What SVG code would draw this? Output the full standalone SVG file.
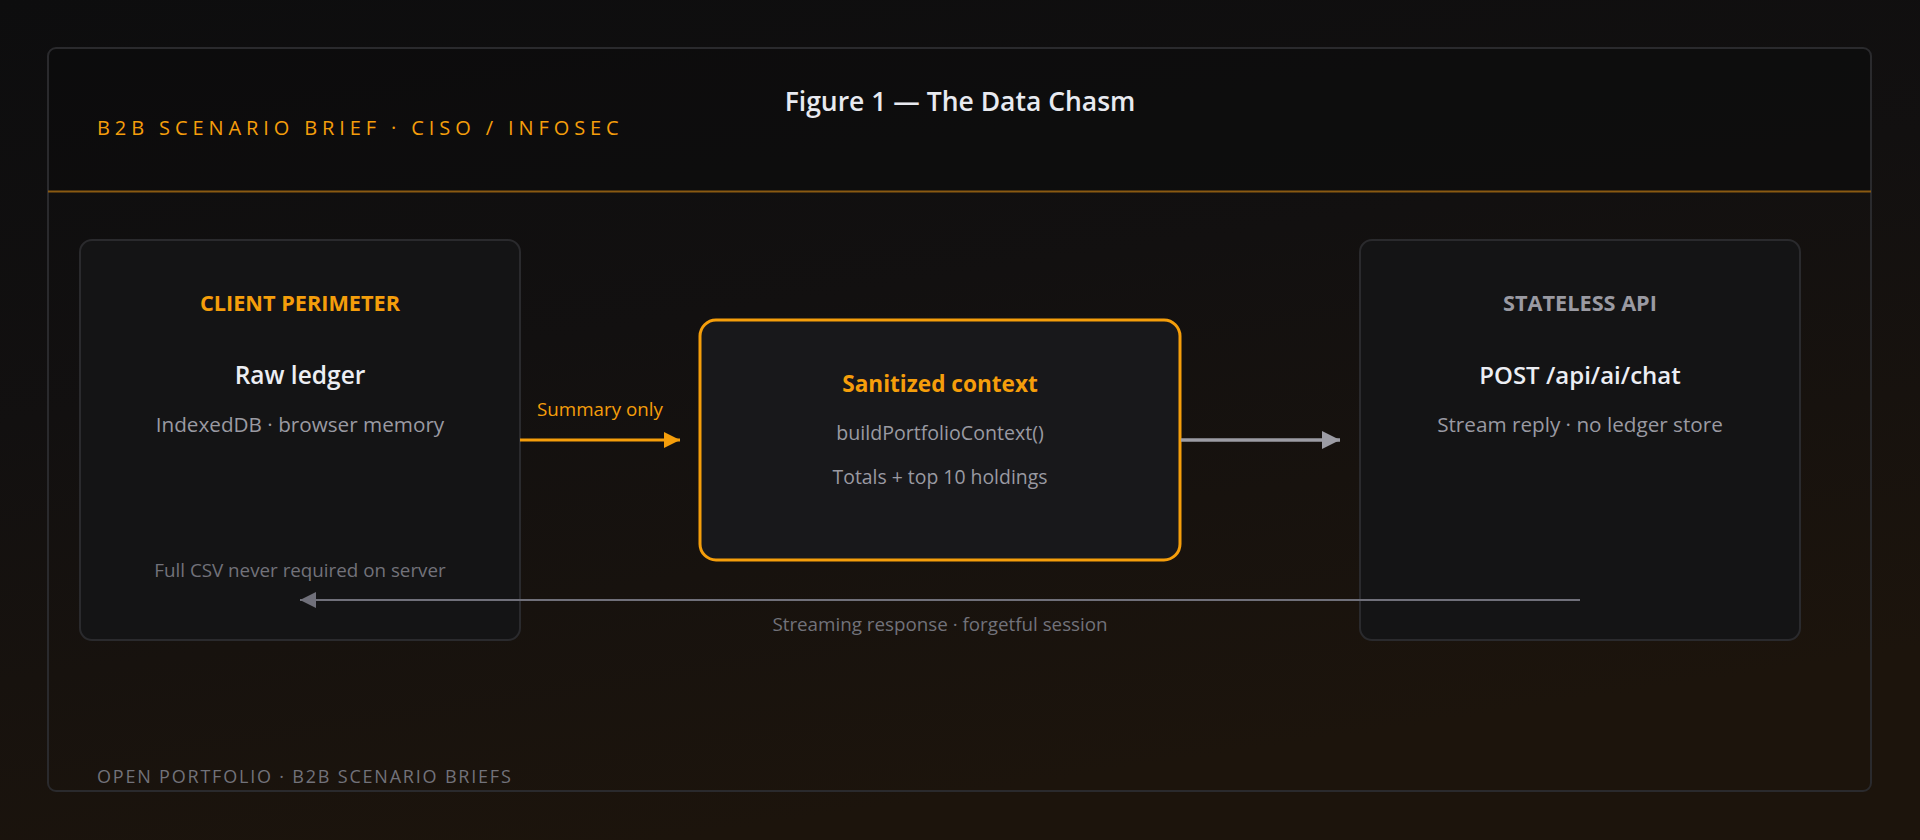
<svg xmlns="http://www.w3.org/2000/svg" width="1920" height="840" viewBox="0 0 1920 840">
<defs>
<linearGradient id="bg" x1="0" y1="0" x2="0.35" y2="1">
<stop offset="0" stop-color="#0d0d0e"/>
<stop offset="0.45" stop-color="#121010"/>
<stop offset="1" stop-color="#1c140c"/>
</linearGradient>
<marker id="ahOrange" viewBox="0 0 10 10" refX="10" refY="5" markerWidth="16" markerHeight="16" markerUnits="userSpaceOnUse" orient="auto"><path d="M0,0 L10,5 L0,10 Z" fill="#f59e0b"/></marker>
<marker id="ahGray" viewBox="0 0 10 10" refX="10" refY="5" markerWidth="18" markerHeight="20" markerUnits="userSpaceOnUse" orient="auto"><path d="M0,0 L10,5 L0,10 Z" fill="#9c9ca4"/></marker>
<marker id="ahDim" viewBox="0 0 10 10" refX="10" refY="5" markerWidth="16" markerHeight="19" markerUnits="userSpaceOnUse" orient="auto"><path d="M0,0 L10,5 L0,10 Z" fill="#70707a"/></marker>
<style>
text{font-family:"Open Sans","Noto Sans","Liberation Sans",sans-serif;}
.node{fill:#141415;stroke:#2a2a2d;stroke-width:2;}
.kicker{font-size:21.7px;font-weight:700;text-anchor:middle;}
.main{font-size:24.5px;font-weight:600;fill:#eceef3;text-anchor:middle;}
.sub{font-size:20.7px;fill:#9a9aa2;text-anchor:middle;}
.dim{font-size:18.8px;fill:#72727a;text-anchor:middle;}
</style>
</defs>
<rect width="1920" height="840" fill="url(#bg)"/>
<g id="frame">
<path d="M47,191 V56 a8,8 0 0 1 8,-8 H1863 a8,8 0 0 1 8,8 V191 Z" fill="#0b0b0c" fill-opacity="0.6"/>
<rect x="48" y="48" width="1823" height="743" rx="8" fill="none" stroke="#2a2a2d" stroke-width="2"/>
<line x1="48" y1="191.5" x2="1871" y2="191.5" stroke="#8a5a12" stroke-width="2"/>
<text x="97" y="135" font-size="20" fill="#f59e0b" letter-spacing="4.9">B2B SCENARIO BRIEF · CISO / INFOSEC</text>
<text x="960" y="111" font-size="26.5" font-weight="600" fill="#e8eaf0" text-anchor="middle">Figure 1 — The Data Chasm</text>
<text x="97" y="783" font-size="18" fill="#72727a" letter-spacing="1.8">OPEN PORTFOLIO · B2B SCENARIO BRIEFS</text>
</g>
<g id="client">
<rect class="node" x="80" y="240" width="440" height="400" rx="12"/>
<text class="kicker" x="300" y="311" fill="#f59e0b">CLIENT PERIMETER</text>
<text class="main" x="300" y="384">Raw ledger</text>
<text class="sub" x="300" y="432">IndexedDB · browser memory</text>
<text class="dim" x="300" y="577">Full CSV never required on server</text>
</g>
<g id="sanitized">
<rect x="700" y="320" width="480" height="240" rx="16" fill="#18181b" stroke="#f59e0b" stroke-width="3"/>
<text x="940" y="392" font-size="22.6" font-weight="700" fill="#f59e0b" text-anchor="middle">Sanitized context</text>
<text class="sub" x="940" y="440" style="font-size:19.6px">buildPortfolioContext()</text>
<text class="sub" x="940" y="484" style="font-size:19.4px">Totals + top 10 holdings</text>
</g>
<g id="api">
<rect class="node" x="1360" y="240" width="440" height="400" rx="12"/>
<text class="kicker" x="1580" y="311" fill="#9a9aa2">STATELESS API</text>
<text class="main" x="1580" y="384" style="font-size:24px">POST /api/ai/chat</text>
<text class="sub" x="1580" y="432">Stream reply · no ledger store</text>
</g>
<g id="connectors">
<line x1="520" y1="440" x2="680" y2="440" stroke="#f59e0b" stroke-width="3" marker-end="url(#ahOrange)"/>
<text x="600" y="416" font-size="18.8" fill="#f59e0b" text-anchor="middle">Summary only</text>
<line x1="1181" y1="440" x2="1340" y2="440" stroke="#9c9ca4" stroke-width="3.5" marker-end="url(#ahGray)"/>
<line x1="1580" y1="600" x2="300" y2="600" stroke="#70707a" stroke-width="2" marker-end="url(#ahDim)"/>
<text x="940" y="631" font-size="18.8" fill="#72727a" text-anchor="middle">Streaming response · forgetful session</text>
</g>
</svg>
